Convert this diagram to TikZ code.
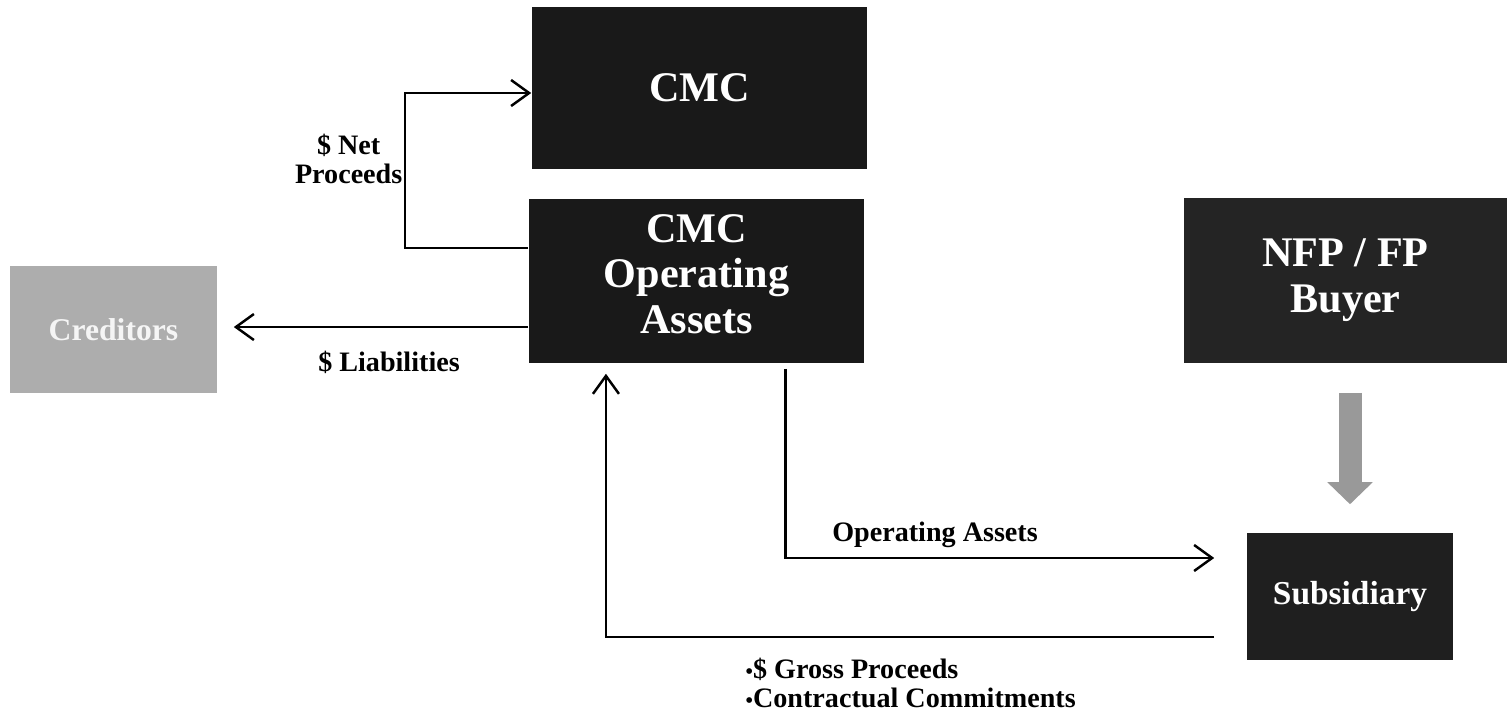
\documentclass[tikz,border=0pt]{standalone}
\usepackage{fontspec}
\setmainfont{Liberation Serif}
\usepackage{xcolor}
\usepackage{tikz}
\usetikzlibrary{arrows.meta}

\begin{document}
\begin{tikzpicture}[x=0.01cm, y=-0.01cm,
	box/.style={fill=black!90, text=white, inner sep=0, align=center,
		font=\bfseries\fontsize{12}{13}\selectfont},
	flow/.style={line width=0.7pt, -{Straight Barb[length=1.8mm, width=2.6mm]}},
	lbl/.style={inner sep=0, align=center, font=\bfseries\fontsize{8}{8.5}\selectfont}]

\useasboundingbox (0,0) rectangle (1507,718);

\node[box, minimum width=3.35cm, minimum height=1.62cm] (cmc)  at ( 699.5, 88) {CMC};
\node[box, minimum width=3.35cm, minimum height=1.64cm] (ops)  at ( 696.5,281) {CMC\\Operating\\Assets\\[-9pt]};
\node[box, minimum width=3.23cm, minimum height=1.65cm, fill=black!86] (buyer) at (1345.5,280.5) {NFP / FP\\Buyer};
\node[box, minimum width=2.06cm, minimum height=1.27cm, fill=black!88,
	font=\bfseries\fontsize{9.5}{11}\selectfont] (sub) at (1350,596.5) {Subsidiary};
\node[box, minimum width=2.07cm, minimum height=1.27cm, fill=black!32, text=black!4,
	font=\bfseries\fontsize{9}{11}\selectfont] (cred) at (113.5,329.5) {Creditors};

\coordinate (liab)  at ([yshift=-4.6mm]ops.west);
\coordinate (opout) at ([xshift=8.9mm, yshift=-0.5mm]ops.south);

\draw[flow] ([yshift=3.3mm]ops.west) -- ++(-123,0) |- ([yshift=-0.5mm]cmc.west);
\draw[flow, shorten >=1.6mm] (liab) -- (liab -| cred.east);
\draw[flow, shorten >=3.2mm] (opout) |- ([yshift=3.85mm]sub.west);
\draw[flow, shorten <=3.2mm, shorten >=1mm] ([yshift=-4.05mm]sub.west) -| ([xshift=-9.05mm]ops.south);

\draw[black!40, line width=2.3mm, shorten <=2.9mm, shorten >=2.8mm,
	-{Triangle[length=2.2mm, width=4.4mm]}] (buyer.south -| sub.north) -- (sub.north);

\node[lbl, anchor=east] (netlbl) at (403,159) {\$ Net\\Proceeds};
\node[lbl] (liablbl) at (389,362) {\$ Liabilities};
\node[lbl] (oplbl) at (935,535) {Operating Assets};
\node[lbl, anchor=west, align=left] (grosslbl) at (745,683) {{\fontsize{6}{6}\selectfont•}\$ Gross Proceeds\\{\fontsize{6}{6}\selectfont•}Contractual Commitments};

\end{tikzpicture}
\end{document}
